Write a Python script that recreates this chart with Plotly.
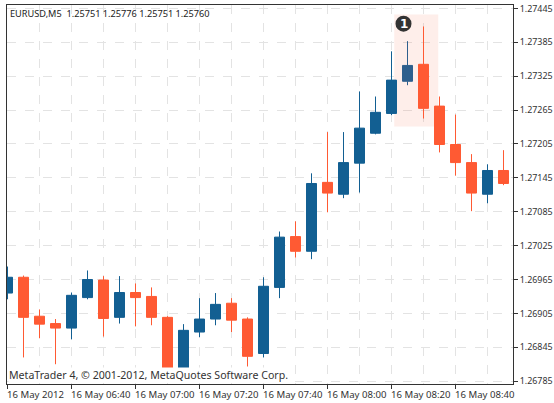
import plotly.graph_objects as go

bar_index = list(range(32))
open_px = [1.26941, 1.26969, 1.26900, 1.26887, 1.26879, 1.26933, 1.26964, 1.26898, 1.26942, 1.26935, 1.26898, 1.26801,
           1.26872, 1.26895, 1.26923, 1.26895, 1.26834, 1.26951, 1.27041, 1.27015, 1.27137, 1.27116, 1.27171, 1.27224,
           1.27259, 1.27316, 1.27346, 1.27272, 1.27204, 1.27172, 1.27116, 1.27158]
close_px = [1.26969, 1.26898, 1.26886, 1.26879, 1.26937, 1.26965, 1.26896, 1.26942, 1.26933, 1.26898, 1.26802, 1.26875,
            1.26895, 1.26921, 1.26893, 1.26829, 1.26953, 1.27040, 1.27015, 1.27135, 1.27118, 1.27172, 1.27233, 1.27261,
            1.27318, 1.27344, 1.27268, 1.27204, 1.27172, 1.27118, 1.27158, 1.27135]
high_px = [1.26988, 1.26972, 1.26912, 1.26895, 1.26942, 1.26981, 1.26971, 1.26971, 1.26958, 1.26951, 1.26900, 1.26886,
           1.26932, 1.26941, 1.26932, 1.26898, 1.26969, 1.27050, 1.27068, 1.27153, 1.27226, 1.27226, 1.27298, 1.27289,
           1.27369, 1.27387, 1.27413, 1.27289, 1.27257, 1.27187, 1.27169, 1.27194]
low_px = [1.26930, 1.26827, 1.26861, 1.26815, 1.26859, 1.26930, 1.26864, 1.26887, 1.26882, 1.26884, 1.26802, 1.26801,
          1.26863, 1.26884, 1.26872, 1.26811, 1.26827, 1.26932, 1.27004, 1.27001, 1.27084, 1.27109, 1.27119, 1.27222,
          1.27256, 1.27309, 1.27250, 1.27190, 1.27149, 1.27086, 1.27100, 1.27132]
y_ticks = [1.27445, 1.27385, 1.27325, 1.27265, 1.27205, 1.27145, 1.27085, 1.27025, 1.26965, 1.26905, 1.26845, 1.26785]
x_tick_bars = [0, 4, 8, 12, 16, 20, 24, 28]
x_tick_text = ["16 May 2012", "16 May 06:40", "16 May 07:00", "16 May 07:20",
               "16 May 07:40", "16 May 08:00", "16 May 08:20", "16 May 08:40"]
x_grid_bars = [2, 6, 10, 14, 18, 22, 26, 30]
marked_bar = 25

BLUE, ORANGE, INK, GRID = "#125f92", "#ff5a33", "#333333", "#e3e3e3"
MARKED_BLUE = "#2e5f8d"
FONT = "Noto Sans"
TICK_SIZE = 9.6

keep = [i for i in bar_index if i != marked_bar]
pick = lambda seq, idx: [seq[i] for i in idx]


def candles(idx, up):
    return go.Candlestick(
        x=pick(bar_index, idx), open=pick(open_px, idx), high=pick(high_px, idx),
        low=pick(low_px, idx), close=pick(close_px, idx),
        increasing=dict(line=dict(color=up, width=1), fillcolor=up),
        decreasing=dict(line=dict(color=ORANGE, width=1), fillcolor=ORANGE),
        whiskerwidth=0, showlegend=False, hoverinfo="skip")


fig = go.Figure([candles(keep, BLUE), candles([marked_bar], MARKED_BLUE)])

fig.update_layout(
    width=554, height=403, margin=dict(l=7, r=41, t=5, b=19, autoexpand=False),
    paper_bgcolor="white", plot_bgcolor="white", boxmode="overlay", boxgap=0.375, boxgroupgap=0,
    font=dict(family=FONT, size=TICK_SIZE, color=INK),
    xaxis=dict(range=[-0.03125, 31.59375], rangeslider=dict(visible=False), automargin=False,
               tickmode="array", tickvals=x_tick_bars, showticklabels=False,
               ticks="outside", ticklen=4, tickcolor=INK, showline=True, linecolor=INK,
               linewidth=1, mirror=True, showgrid=True, gridcolor=GRID, griddash="dash",
               minor=dict(tickmode="array", tickvals=x_grid_bars, showgrid=True, gridcolor=GRID,
                          griddash="dash", ticks="")),
    yaxis=dict(range=[1.26780, 1.27451], side="right", tickmode="array", tickvals=y_ticks, automargin=False,
               tickformat=".5f", ticks="outside", ticklen=4, tickcolor=INK, showline=True,
               tickfont=dict(family=FONT, size=8.9, color=INK),
               linecolor=INK, linewidth=1, mirror=True, showgrid=True, gridcolor=GRID, griddash="dash",
               zeroline=False),
)

for bar, label in zip(x_tick_bars, x_tick_text):
    fig.add_annotation(x=bar, y=0, xref="x", yref="paper", yshift=-3, text=label, showarrow=False,
                       xanchor="left", yanchor="top", xshift=-2, borderpad=0,
                       font=dict(family=FONT, size=TICK_SIZE, color=INK))

fig.add_annotation(x=0, y=1, xref="paper", yref="paper", text="EURUSD,M5  1.25751 1.25776 1.25751 1.25760",
                   showarrow=False, xanchor="left", yanchor="top", xshift=2, yshift=-1, borderpad=0,
                   font=dict(family=FONT, size=9.2, color="#222222"))
fig.add_annotation(x=0, y=0, xref="paper", yref="paper", text="MetaTrader 4, © 2001-2012, MetaQuotes Software Corp.",
                   showarrow=False, xanchor="left", yanchor="bottom", xshift=1, yshift=1, borderpad=0,
                   bgcolor="white", font=dict(family=FONT, size=10.6, color=INK))

# highlight of the pattern, with its numbered marker
fig.add_shape(type="rect", x0=24.17, x1=26.92, y0=1.27236, y1=1.27434, xref="x", yref="y",
              fillcolor="rgba(250,100,60,0.11)", line_width=0, layer="between")
fig.add_shape(type="circle", xref="x", yref="y", xsizemode="pixel", ysizemode="pixel",
              xanchor=24.75, yanchor=1.27418, x0=-8, x1=8, y0=-8, y1=8,
              fillcolor=INK, line_width=0, layer="above")
fig.add_annotation(x=24.75, y=1.27418, xref="x", yref="y", text="<b>1</b>", showarrow=False,
                   font=dict(family="DejaVu Sans", size=12, color="white"))

fig.write_html("out.html", config=dict(displayModeBar=False),
               post_script="document.body.style.margin='0';window.dispatchEvent(new Event('resize'));")
